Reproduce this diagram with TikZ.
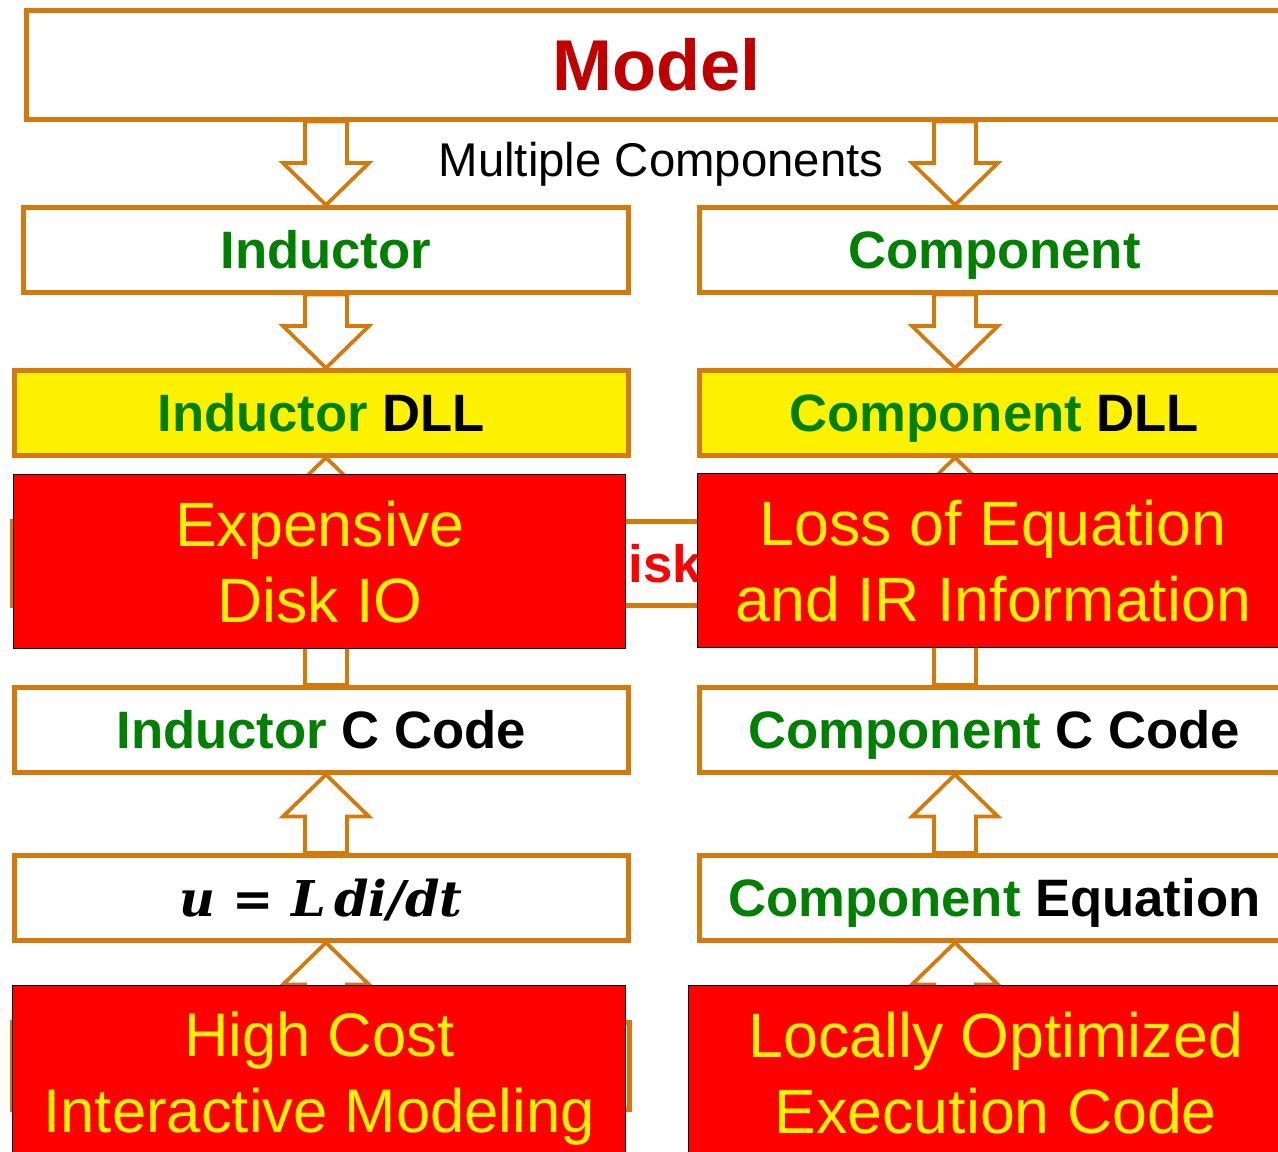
\documentclass[tikz,border=0pt]{standalone}
\usepackage{fontspec}
\setmainfont{Liberation Sans}
\newfontfamily\eqfont{DejaVu Serif}
\usetikzlibrary{calc, positioning, backgrounds}
\definecolor{boxorange}{RGB}{212,122,12}
\definecolor{labgreen}{RGB}{0,128,0}
\definecolor{modred}{RGB}{192,0,0}
\tikzset{
  stage/.style = {draw=boxorange, line width=3.4pt, fill=white, rectangle,
    anchor=north west, inner sep=0pt, minimum height=63.75pt,
    text height=28.3pt, text depth=0pt,
    font=\fontsize{39.5}{47}\selectfont\bfseries},
  issue/.style = {draw=black, line width=1.1pt, fill=red, rectangle,
    anchor=north west, inner sep=0pt, minimum height=130.5pt,
    text height=90.6pt, text depth=0pt,
    text=yellow, align=center, font=\fontsize{47}{57}\selectfont},
  blockarr/.style = {draw=boxorange, line width=2.8pt, fill=white, line join=miter},
}
% hollow block arrow from #1 to #2 (vertical only)
\newcommand{\fatarrow}[2]{%
  \draw[blockarr] let \p1=(#1), \p2=(#2), \n1={sign(\y1-\y2)} in
    (\x1-15.75pt,\y1) -- (\x1-15.75pt,\y2+\n1*31.5pt) -- (\x1-32.25pt,\y2+\n1*31.5pt)
    -- (\x2,\y2) -- (\x1+32.25pt,\y2+\n1*31.5pt) -- (\x1+15.75pt,\y2+\n1*31.5pt)
    -- (\x1+15.75pt,\y1) -- cycle;}

\begin{document}
\begin{tikzpicture}[x=0.75pt, y=-0.75pt]
  \useasboundingbox (0,0) rectangle (1278,1152);
  \clip (0,0) rectangle (1278,1152);
  \coordinate (lcol) at (326,0);
  \coordinate (rcol) at (955,0);

  \node[stage, minimum width=945pt, minimum height=81.75pt, text=modred,
    text height=38.7pt, font=\fontsize{54}{60}\selectfont\bfseries] (model) at (24,8) {Model};
  \node[font=\fontsize{35.5}{42}\selectfont, inner sep=0pt, text height=25.4pt, text depth=0pt]
    (multi) at (661,160) {Multiple Components};

  \node[stage, minimum width=453.75pt, text=labgreen] (ind) at (21,205) {Inductor};
  \node[stage, minimum width=442.5pt, text=labgreen] (comp) at (697,205) {Component};
  \node[stage, minimum width=460.5pt, fill=yellow] (inddll) at (12,368)
    {\textcolor{labgreen}{Inductor} DLL};
  \node[stage, minimum width=442.5pt, fill=yellow] (compdll) at (697,368)
    {\textcolor{labgreen}{Component} DLL};
  \node[stage, minimum width=951pt, minimum height=63pt, text=red] (disk) at (10,519) {Disk};
  \node[stage, minimum width=460.5pt] (indc) at (12,685)
    {\textcolor{labgreen}{Inductor} C Code};
  \node[stage, minimum width=442.5pt] (compc) at (697,685)
    {\textcolor{labgreen}{Component} C Code};
  \node[stage, minimum width=460.5pt, font=\fontsize{37}{47}\selectfont\eqfont\bfseries\itshape] (indeq) at (12,853)
    {u {\upshape=} L\,di/dt};
  \node[stage, minimum width=442.5pt] (compeq) at (697,853)
    {\textcolor{labgreen}{Component} Equation};
  \node[stage, minimum width=462.75pt, minimum height=65.25pt] (hidl) at (10,1020) {};
  \node[stage, minimum width=442.5pt, minimum height=65.25pt] (hidr) at (697,1020) {};

  \begin{scope}[on background layer]
    \fatarrow{model.south -| lcol}{ind.north -| lcol}
    \fatarrow{model.south -| rcol}{comp.north -| rcol}
    \fatarrow{ind.south -| lcol}{inddll.north -| lcol}
    \fatarrow{comp.south -| rcol}{compdll.north -| rcol}
    \fatarrow{indc.north -| lcol}{inddll.south -| lcol}
    \fatarrow{compc.north -| rcol}{compdll.south -| rcol}
    \fatarrow{indeq.north -| lcol}{indc.south -| lcol}
    \fatarrow{compeq.north -| rcol}{compc.south -| rcol}
    \fatarrow{hidl.north -| lcol}{indeq.south -| lcol}
    \fatarrow{hidr.north -| rcol}{compeq.south -| rcol}
  \end{scope}

  \node[issue, minimum width=459pt] (expio) at (13,474) {Expensive\\Disk IO};
  \node[issue, minimum width=443.25pt] (loss) at (697,473) {Loss of Equation\\and IR Information};
  \node[issue, minimum width=459.75pt, text height=90.1pt, font=\fontsize{46.2}{57}\selectfont]
    (highcost) at (12,985) {High Cost\\Interactive Modeling};
  \node[issue, minimum width=460.5pt] (locopt) at (688,985) {Locally Optimized\\Execution Code};
\end{tikzpicture}
\end{document}
